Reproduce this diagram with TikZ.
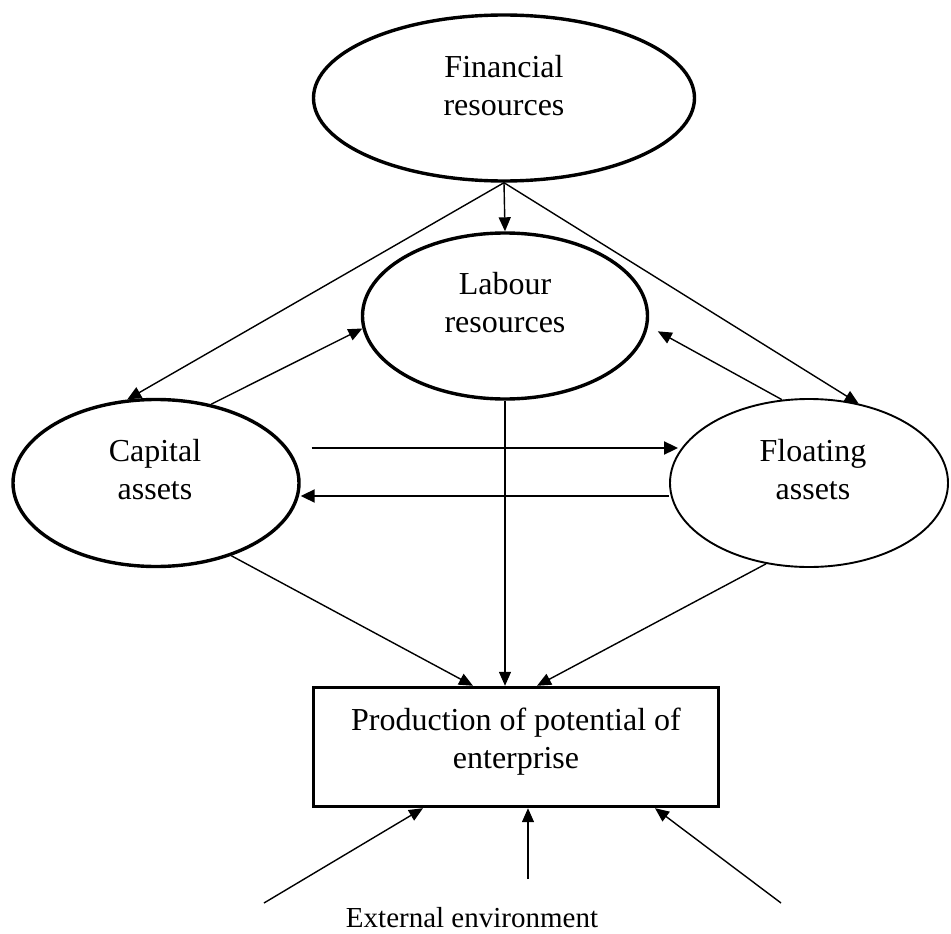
\documentclass[tikz,border=0pt]{standalone}
\usepackage{fontspec}
\setmainfont{Liberation Serif}
\usetikzlibrary{shapes.geometric,arrows.meta}
\begin{document}
\begin{tikzpicture}[x=1pt,y=-1pt,
  resource/.style={ellipse, draw, line width=3.4pt, inner sep=0pt},
  lightres/.style={ellipse, draw, line width=1.9pt, inner sep=0pt},
  outcome/.style={rectangle, draw, line width=3.4pt, inner sep=0pt},
  caption/.style={align=center, inner sep=0pt, font=\fontsize{32}{38}\selectfont},
  link/.style={line width=1.4pt, -{Triangle[length=14pt,width=12pt]}},
  flow/.style={line width=2pt, -{Triangle[length=14pt,width=13pt]}}]
\useasboundingbox (0,0) rectangle (951,934);

% resource ellipses
\node[resource, minimum width=381pt, minimum height=166pt] (fin) at (504,98) {};
\node[resource, minimum width=285pt, minimum height=166pt] (lab) at (505,316) {};
\node[resource, minimum width=286pt, minimum height=167pt] (cap) at (156,483) {};
\node[lightres, minimum width=278pt, minimum height=168pt] (flo) at (809,483) {};
\node[outcome, minimum width=405pt, minimum height=119pt] (prod) at (516,747) {};

% captions
\node[caption] (fintxt) at (504,86) {Financial\\resources};
\node[caption] (labtxt) at (505,303) {Labour\\resources};
\node[caption] (captxt) at (155,470) {Capital\\assets};
\node[caption] (flotxt) at (813,470) {Floating\\assets};
\node[caption] (prodtxt) at (516,742) {Production of potential of\\enterprise};
\node[inner sep=0pt, font=\fontsize{29}{34}\selectfont] (env) at (472,918) {External environment};

% sources of the external influences
\coordinate (envL) at (264,903);
\coordinate (envM) at (528,879);
\coordinate (envR) at (781,903);

% financial resources feed the other three
\draw[link] (fin.south) -- (lab.north);
\draw[link] (fin.south) -- (cap.109);
\draw[link] (fin.south) -- (flo.58);

% assets towards labour
\draw[link] (cap.55) -- (lab.185);
\draw[link, shorten >=11pt] (flo.108) -- (lab.-4);

% exchange between capital and floating assets
\draw[flow] ([xshift=11pt,yshift=35pt]cap.east) -- ([xshift=9pt,yshift=35pt]flo.west);
\draw[flow] ([yshift=-13pt]flo.west) -- ([yshift=-13pt]cap.east);

% everything forms the production potential
\draw[link] (lab.south) -- (lab.south |- prod.north);
\draw[link] (cap.-44) -- ([xshift=-43pt]prod.north);
\draw[link] (flo.242) -- ([xshift=21pt]prod.north);

% external environment
\draw[link] (envL) -- ([xshift=-93pt]prod.south);
\draw[link] (envM) -- ([xshift=12pt]prod.south);
\draw[link] (envR) -- ([xshift=139pt]prod.south);
\end{tikzpicture}
\end{document}
